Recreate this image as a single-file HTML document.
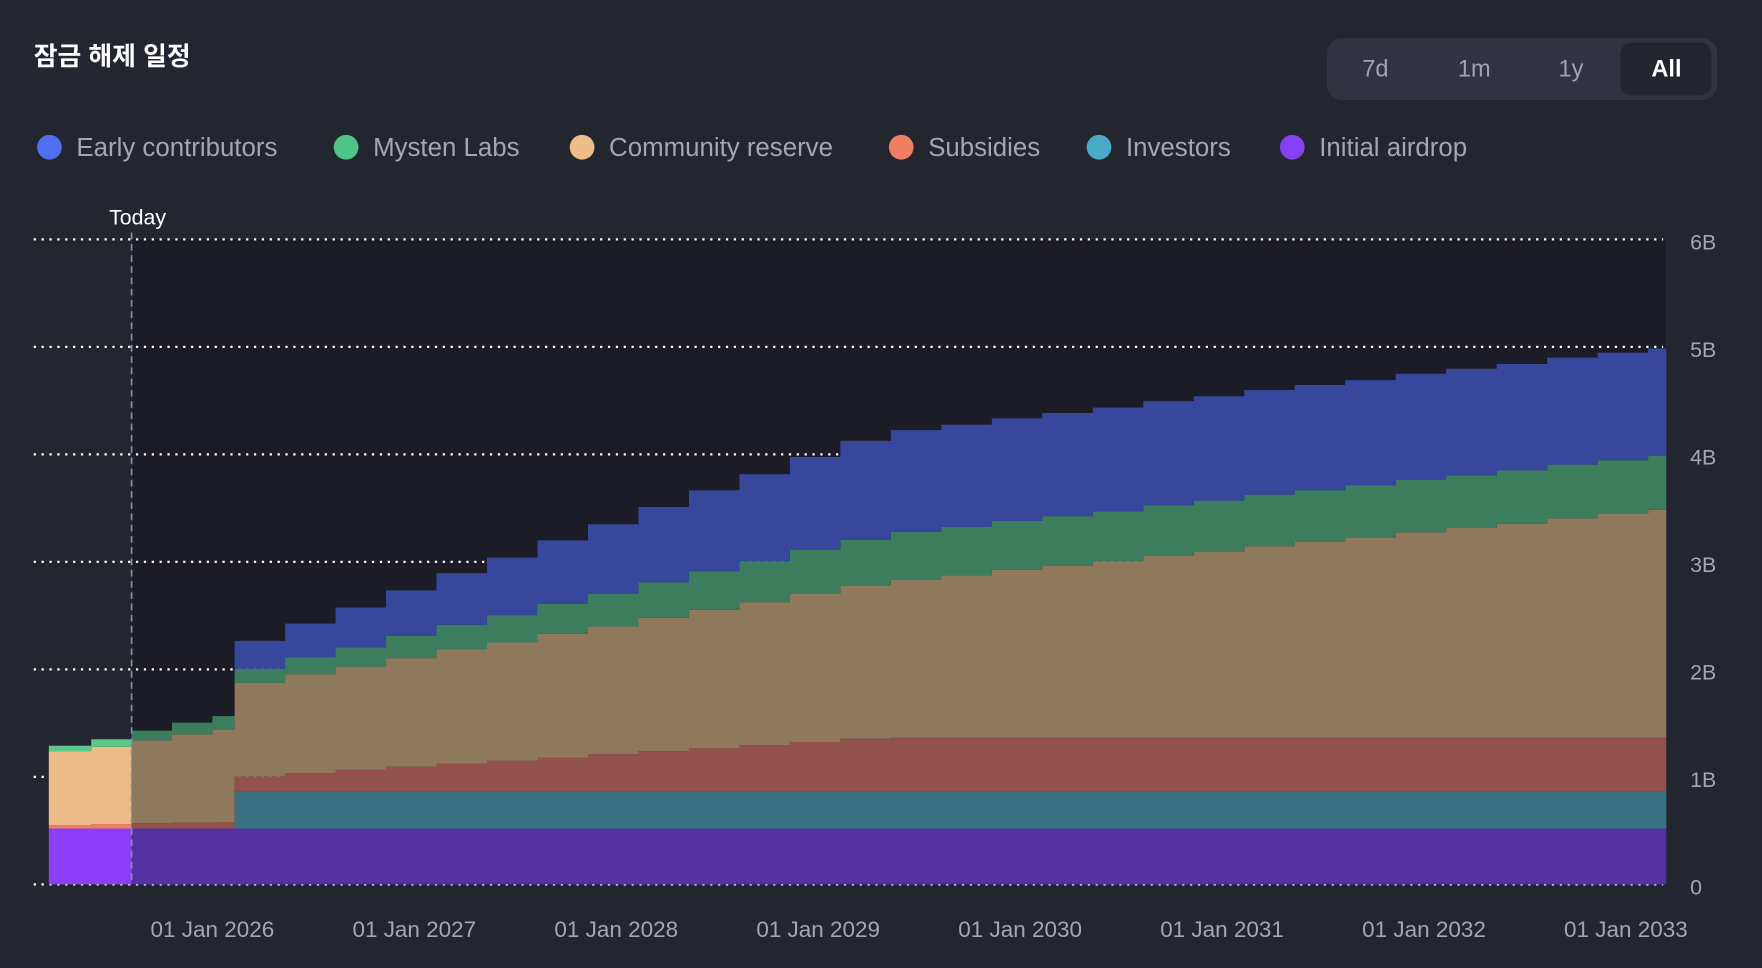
<!DOCTYPE html>
<html><head><meta charset="utf-8"><style>
html,body{margin:0;padding:0;background:#23252f;}
svg{display:block;font-family:"Liberation Sans","Noto Sans CJK KR",sans-serif;}
</style></head><body>
<svg id="chart" width="1762" height="968" viewBox="0 0 1568 861.4" preserveAspectRatio="none" xmlns="http://www.w3.org/2000/svg">
<rect x="0" y="0" width="1568" height="861.4" fill="#23252f"/>
<text x="30" y="58" fill="#ffffff" font-size="23" font-weight="bold">잠금 해제 일정</text>
<g>
<rect x="1181" y="34" width="347" height="55" rx="13" fill="#313340"/>
<rect x="1442" y="38" width="81" height="47" rx="10" fill="#22242e"/>
<text x="1224" y="68" fill="#9fa3b5" font-size="21" text-anchor="middle">7d</text>
<text x="1312" y="68" fill="#9fa3b5" font-size="21" text-anchor="middle">1m</text>
<text x="1398" y="68" fill="#9fa3b5" font-size="21" text-anchor="middle">1y</text>
<text x="1483" y="68" fill="#ffffff" font-size="21" font-weight="bold" text-anchor="middle">All</text>
</g>
<g id="legend"></g>
<rect x="118" y="213" width="1364" height="574" fill="#1b1c26"/>
<g id="grid"></g>
<g id="areas"></g>
<g id="axes"></g>
</svg>
<script>
const NS='http://www.w3.org/2000/svg';
const seriesNames=['Early contributors','Mysten Labs','Community reserve','Subsidies','Investors','Initial airdrop'];
const dates=[2025.19,2025.4,2025.6,2025.8,2026.0,
2026.11,2026.36,2026.61,2026.86,2027.11,2027.36,2027.61,2027.86,2028.11,2028.36,2028.61,2028.86,2029.11,2029.36,2029.61,2029.86,2030.11,2030.36,2030.61,2030.86,2031.11,2031.36,2031.61,2031.86,2032.11,2032.36,2032.61,2032.86,2033.11,2033.2];
const airdrop=[0.52,0.52,0.52,0.52,0.52,
0.52,0.52,0.52,0.52,0.52,0.52,0.52,0.52,0.52,0.52,0.52,0.52,0.52,0.52,0.52,0.52,0.52,0.52,0.52,0.52,0.52,0.52,0.52,0.52,0.52,0.52,0.52,0.52,0.52,0.52];
const investors=[0,0,0,0,0,
0.345,0.345,0.345,0.345,0.345,0.345,0.345,0.345,0.345,0.345,0.345,0.345,0.345,0.345,0.345,0.345,0.345,0.345,0.345,0.345,0.345,0.345,0.345,0.345,0.345,0.345,0.345,0.345,0.345,0.345];
const subsidies=[0.03,0.04,0.05,0.055,0.06,
0.14,0.17,0.2,0.23,0.26,0.285,0.315,0.345,0.375,0.4,0.43,0.46,0.49,0.5,0.5,0.5,0.5,0.5,0.5,0.5,0.5,0.5,0.5,0.5,0.5,0.5,0.5,0.5,0.5,0.5];
const community=[0.69,0.72,0.77,0.82,0.86,
0.87,0.92,0.96,1.01,1.06,1.10,1.15,1.19,1.24,1.29,1.33,1.38,1.42,1.47,1.51,1.56,1.60,1.64,1.69,1.73,1.78,1.82,1.86,1.91,1.95,1.99,2.04,2.08,2.12,2.14];
const mysten=[0.05,0.07,0.09,0.11,0.125,
0.13,0.155,0.18,0.205,0.23,0.255,0.28,0.305,0.33,0.355,0.38,0.405,0.43,0.445,0.45,0.455,0.46,0.465,0.47,0.475,0.48,0.48,0.485,0.49,0.49,0.495,0.5,0.5,0.5,0.5];
const early=[0,0,0,0,0,
0.26,0.315,0.37,0.425,0.48,0.535,0.59,0.645,0.70,0.755,0.81,0.865,0.92,0.945,0.95,0.955,0.96,0.965,0.97,0.97,0.975,0.98,0.98,0.985,0.99,0.99,0.995,1.0,1.0,1.0];
const yTicks=[0,1,2,3,4,5,6];
const yTickLabels=['0','1B','2B','3B','4B','5B','6B'];
const xTicks=[2026,2027,2028,2029,2030,2031,2032,2033];
const xTickLabels=['01 Jan 2026','01 Jan 2027','01 Jan 2028','01 Jan 2029','01 Jan 2030','01 Jan 2031','01 Jan 2032','01 Jan 2033'];
const todayDate=2025.6;

const X=t=>189+(t-2026)*179.7;
const Y=v=>787-v*95.67;
const svg=document.getElementById('chart');
function mk(tag,attrs,parent){const e=document.createElementNS(NS,tag);for(const k in attrs)e.setAttribute(k,attrs[k]);parent.appendChild(e);return e;}

// legend
const legendColors=['#4f6ef0','#4fc486','#efbd8a','#ef7e63','#4aa9c7','#8440f2'];
const legendX=[44,308,518,802,978,1150];
const lg=document.getElementById('legend');
seriesNames.forEach((n,i)=>{
  const g=mk('g',{},lg);
  
  
  mk('circle',{cx:legendX[i],cy:131,r:11,fill:legendColors[i]},g);
  const t=mk('text',{x:legendX[i]+24,y:139,fill:'#a3a6b6','font-size':'23'},g);
  t.textContent=n;
});

// grid
const grid=document.getElementById('grid');
yTicks.forEach((v,i)=>{
  const l=mk('line',{x1:30,x2:1480,y1:Y(v),y2:Y(v),stroke:'#ffffff','stroke-width':2,'stroke-dasharray':'2 5'},grid);
  
  
});

// clip paths
const defs=mk('defs',{},svg);
const cpPast=mk('clipPath',{id:'past'},defs);mk('rect',{x:0,y:0,width:X(todayDate),height:900},cpPast);
const cpFut=mk('clipPath',{id:'future'},defs);mk('rect',{x:X(todayDate),y:0,width:1600,height:900},cpFut);

const stack=[airdrop,investors,subsidies,community,mysten,early];
const stackNames=['initial-airdrop','investors','subsidies','community-reserve','mysten-labs','early-contributors'];
const pastCol=['#8a3ff7','#4aa9c7','#ef7e63','#edbb88','#5ac88a','#4f6ef0'];
const futCol=['#5231a1','#387184','#92524b','#8f785c','#3c7d5e','#37489c'];
const endX=X(dates[dates.length-1]);
const areas=document.getElementById('areas');
let base=dates.map(()=>0);
stack.forEach((s,si)=>{
  const top=base.map((b,i)=>b+s[i]);
  let up='',dn='';
  for(let i=0;i<dates.length;i++){
    const x0=X(dates[i]),x1=i<dates.length-1?X(dates[i+1]):endX;
    up+=(i?'L':'M')+x0+','+Y(top[i])+'L'+x1+','+Y(top[i]);
  }
  for(let i=dates.length-1;i>=0;i--){
    const x0=X(dates[i]),x1=i<dates.length-1?X(dates[i+1]):endX;
    dn+='L'+x1+','+Y(base[i])+'L'+x0+','+Y(base[i]);
  }
  const d=up+dn+'Z';
  const p1=mk('path',{d:d,fill:pastCol[si],'clip-path':'url(#past)'},areas);
  
  
  const p2=mk('path',{d:d,fill:futCol[si],'clip-path':'url(#future)'},areas);
  
  
  base=top;
});

// axes labels
const ax=document.getElementById('axes');
yTicks.forEach((v,i)=>{
  const t=mk('text',{x:1504,y:Y(v)+9,fill:'#a3a6b6','font-size':'19'},ax);
  
  
  t.textContent=yTickLabels[i];
});
xTicks.forEach((v,i)=>{
  const t=mk('text',{x:X(v),y:834,fill:'#a3a6b6','font-size':'20','text-anchor':'middle'},ax);
  
  
  t.textContent=xTickLabels[i];
});
const tl=mk('line',{x1:X(todayDate),x2:X(todayDate),y1:207,y2:787,stroke:'#8a8d9c','stroke-width':1.5,'stroke-dasharray':'6 4'},ax);


const tt=mk('text',{x:X(todayDate)-20,y:200,fill:'#ffffff','font-size':'19'},ax);


tt.textContent='Today';
</script>
</body></html>
